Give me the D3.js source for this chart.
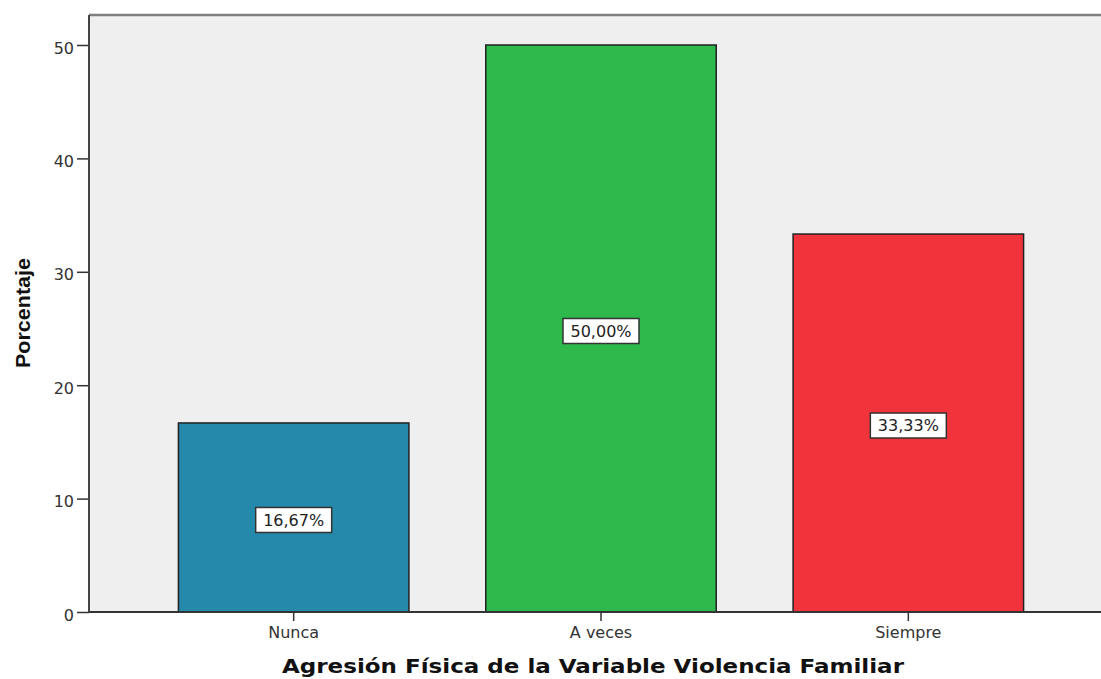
<!DOCTYPE html>
<html>
<head>
<meta charset="utf-8">
<script src="https://cdn.jsdelivr.net/npm/d3@7"></script>
<style>
  body { margin: 0; background: #fff; }
  svg { display: block; font-family: "DejaVu Sans", Verdana, sans-serif; }
</style>
</head>
<body>
<div id="chart-container"></div>
<script>
const categories = ["Nunca", "A veces", "Siempre"];
const values = [16.67, 50.00, 33.33];
const labels = ["16,67%", "50,00%", "33,33%"];
const colors = ["#2489AA", "#2FB84C", "#F1343B"];
const yTicks = [0, 10, 20, 30, 40, 50];

const W = 1101, H = 679;
const plot = { left: 89, right: 1101, top: 15, bottom: 612 };

const svg = d3.select("#chart-container")
  .append("svg")
    .attr("width", W)
    .attr("height", H);

const x = d3.scaleBand()
  .domain(categories)
  .range([140, 1062])
  .paddingInner(0.25)
  .paddingOuter(0.125);

// 0 at the baseline, 50 at y=45
const y = d3.scaleLinear()
  .domain([0, 50])
  .range([plot.bottom, 45]);

// plot background
svg.append("rect")
  .attr("x", plot.left)
  .attr("y", plot.top)
  .attr("width", plot.right - plot.left)
  .attr("height", plot.bottom - plot.top)
  .attr("fill", "#EFEFEF");

// top frame line
svg.append("line")
  .attr("x1", plot.left).attr("x2", plot.right)
  .attr("y1", plot.top).attr("y2", plot.top)
  .attr("stroke", "#7f7f7f")
  .attr("stroke-width", 2.5);

// bars
svg.append("g")
  .selectAll("rect")
  .data(categories)
  .join("rect")
    .attr("x", d => x(d))
    .attr("y", (d, i) => y(values[i]))
    .attr("width", x.bandwidth())
    .attr("height", (d, i) => y(0) - y(values[i]))
    .attr("fill", (d, i) => colors[i])
    .attr("stroke", "#222")
    .attr("stroke-width", 1.5);

// y axis
const yAxis = svg.append("g")
  .attr("transform", `translate(${plot.left},0)`)
  .call(d3.axisLeft(y).tickValues(yTicks).tickSize(12).tickPadding(3).tickSizeOuter(0))
  .attr("font-family", null)
  .attr("font-size", null);
yAxis.select(".domain").remove();
yAxis.selectAll(".tick line").attr("stroke", "#333").attr("stroke-width", 1.5);
yAxis.selectAll("text")
  .attr("fill", "#333")
  .attr("dy", "0.5em")
  .style("font-size", "16px");
svg.append("line")
  .attr("x1", plot.left).attr("x2", plot.left)
  .attr("y1", plot.top).attr("y2", plot.bottom)
  .attr("stroke", "#444").attr("stroke-width", 2);

// x axis
const xAxis = svg.append("g")
  .attr("transform", `translate(0,${plot.bottom})`)
  .call(d3.axisBottom(x).tickSize(9).tickSizeOuter(0))
  .attr("font-family", null)
  .attr("font-size", null);
xAxis.select(".domain").remove();
xAxis.selectAll(".tick line").attr("stroke", "#333").attr("stroke-width", 1.5);
xAxis.selectAll("text")
  .attr("fill", "#333")
  .attr("y", 26)
  .attr("dy", null)
  .style("font-size", "16px");
svg.append("line")
  .attr("x1", plot.left).attr("x2", plot.right)
  .attr("y1", plot.bottom).attr("y2", plot.bottom)
  .attr("stroke", "#333").attr("stroke-width", 2);

// value labels
const lab = svg.append("g")
  .selectAll("g")
  .data(categories)
  .join("g")
    .attr("transform", (d, i) => `translate(${x(d) + x.bandwidth() / 2},${y(values[i] / 2) + 2.5})`);

lab.append("rect")
  .attr("x", -38).attr("y", -12.5)
  .attr("width", 76).attr("height", 25)
  .attr("fill", "#fff")
  .attr("stroke", "#333")
  .attr("stroke-width", 1.5);

lab.append("text")
  .attr("text-anchor", "middle")
  .attr("dy", "0.37em")
  .style("font-size", "16px")
  .attr("fill", "#222")
  .text((d, i) => labels[i]);

// axis titles
svg.append("text")
  .attr("x", 593)
  .attr("y", 673)
  .attr("text-anchor", "middle")
  .attr("textLength", 622)
  .attr("lengthAdjust", "spacingAndGlyphs")
  .style("font-size", "20px")
  .style("font-weight", "bold")
  .attr("fill", "#111")
  .text("Agresión Física de la Variable Violencia Familiar");

svg.append("text")
  .attr("transform", "translate(30,313) rotate(-90)")
  .attr("text-anchor", "middle")
  .attr("textLength", 110)
  .attr("lengthAdjust", "spacingAndGlyphs")
  .style("font-family", "'Liberation Sans', Arial, sans-serif")
  .style("font-size", "20px")
  .style("font-weight", "bold")
  .attr("fill", "#111")
  .text("Porcentaje");
</script>
</body>
</html>
